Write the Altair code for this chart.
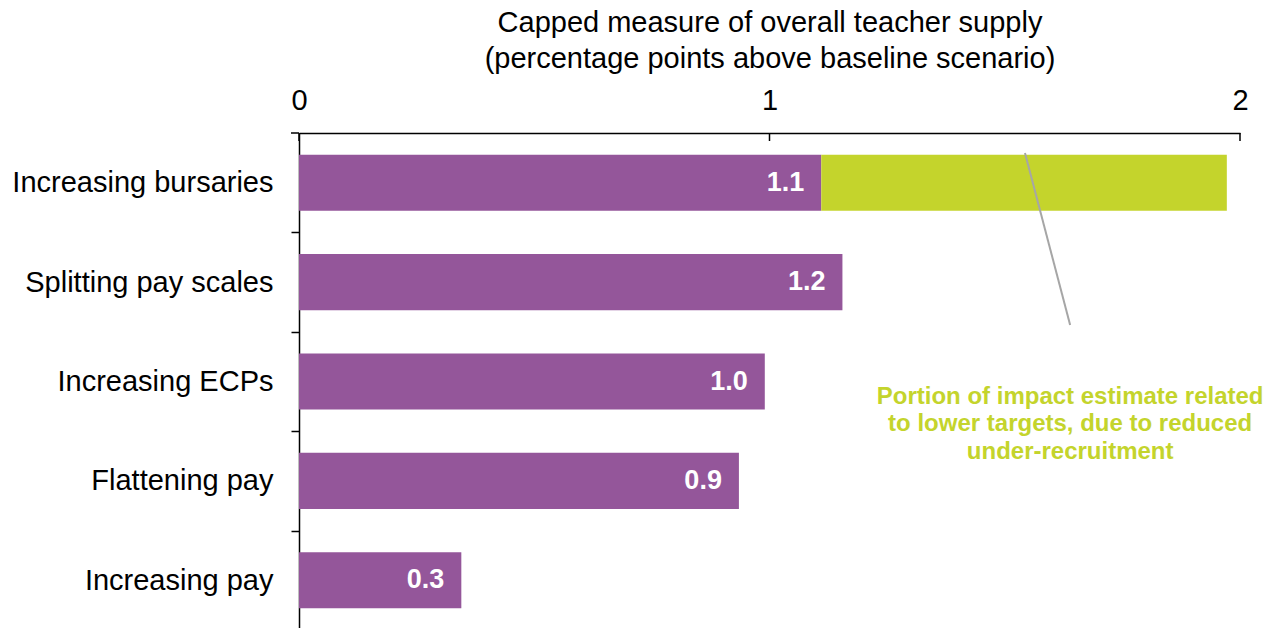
import altair as alt
import pandas as pd

categories = ["Increasing bursaries", "Splitting pay scales", "Increasing ECPs",
              "Flattening pay", "Increasing pay"]
impact = [1.11, 1.155, 0.99, 0.935, 0.345]
lower_target_portion = [0.862, 0.0, 0.0, 0.0, 0.0]
value_labels = ["1.1", "1.2", "1.0", "0.9", "0.3"]
x_ticks = [0, 1, 2]
title_lines = ["Capped measure of overall teacher supply",
               "(percentage points above baseline scenario)"]
note_lines = ["Portion of impact estimate related",
              "to lower targets, due to reduced",
              "under-recruitment"]
note_pos = {"x": 1.639, "category": "Increasing ECPs"}
leader = {"x": 1.543, "x2": 1.639}

PURPLE = "#94569a"
GREEN = "#c4d42c"
FONT = "Liberation Sans"
W, H = 941, 497
STEP = H / len(categories)

rows = []
for c, v, p in zip(categories, impact, lower_target_portion):
    rows.append({"category": c, "segment": "Estimate", "start": 0.0, "end": v})
    if p > 0:
        rows.append({"category": c, "segment": "Lower targets", "start": v, "end": v + p})
bars_df = pd.DataFrame(rows)
labels_df = pd.DataFrame({"category": categories, "value": impact, "label": value_labels})
ticks_df = pd.DataFrame({"tick": x_ticks})
note_df = pd.DataFrame([note_pos])
leader_df = pd.DataFrame([leader])

x_scale = alt.Scale(domain=[0, 2], nice=False, zero=True)
y_scale = alt.Scale(paddingInner=0.436, paddingOuter=0.218)

x_axis = alt.Axis(orient="top", values=x_ticks, labelExpr="'' + round(datum.value)",
                  ticks=False, tickSize=0, grid=False,
                  labelFontSize=29, labelFont=FONT, labelColor="black", labelFlush=False,
                  labelAlign="center", labelOverlap=False,
                  labelPadding=24, labelBaseline="alphabetic",
                  domainColor="black", domainWidth=1.5,
                  title=title_lines, titleFont=FONT, titleFontSize=29,
                  titleFontWeight="normal", titleColor="black", titleLineHeight=36,
                  titleX=W / 2, titleY=-102, titleAlign="center",
                  titleBaseline="alphabetic", titleAnchor="middle")
y_axis = alt.Axis(title=None, orient="left", ticks=True, tickSize=8,
                  tickOffset=STEP / 2, labelOffset=-STEP / 2,
                  tickColor="black", tickWidth=1.5, domainColor="black", domainWidth=1.5,
                  labelFontSize=29, labelFont=FONT, labelColor="black", labelPadding=18,
                  labelLimit=0, grid=False)

y_enc = alt.Y("category:N", sort=categories, scale=y_scale, axis=y_axis)

bars = alt.Chart(bars_df).mark_bar().encode(
    x=alt.X("start:Q", scale=x_scale, axis=x_axis),
    x2="end:Q",
    y=y_enc,
    color=alt.Color("segment:N",
                    scale=alt.Scale(domain=["Estimate", "Lower targets"], range=[PURPLE, GREEN]),
                    legend=None),
)

labels = alt.Chart(labels_df).mark_text(
    align="right", baseline="middle", dx=-17, fontSize=27, fontWeight="bold",
    color="white", font=FONT
).encode(
    x=alt.X("value:Q", scale=x_scale),
    y=alt.Y("category:N", sort=categories, scale=y_scale),
    text="label:N",
)

tick_marks = alt.Chart(ticks_df).mark_rule(color="black", strokeWidth=1.5).encode(
    x=alt.X("tick:Q", scale=x_scale),
    y=alt.value(0),
    y2=alt.value(8),
)

top_left_tick = alt.Chart(ticks_df.head(1)).mark_rule(color="black", strokeWidth=1.5).encode(
    x=alt.value(-8),
    x2=alt.value(0),
    y=alt.value(0),
)

leader_line = alt.Chart(leader_df).mark_rule(color="#a6a6a6", strokeWidth=2).encode(
    x=alt.X("x:Q", scale=x_scale),
    x2="x2:Q",
    y=alt.value(20),
    y2=alt.value(192),
)

note = alt.Chart(note_df).mark_text(
    align="center", baseline="middle", dy=15, fontSize=24, fontWeight="bold",
    color=GREEN, font=FONT, lineHeight=27.5
).encode(
    x=alt.X("x:Q", scale=x_scale),
    y=alt.Y("category:N", sort=categories, scale=y_scale),
    text=alt.value(note_lines),
)

chart = alt.layer(bars, labels, tick_marks, top_left_tick, leader_line, note).properties(
    width=W, height=H,
    autosize=alt.AutoSizeParams(type="none"),
    padding={"left": 291, "top": 125, "right": 26, "bottom": 0},
).configure_view(stroke=None)

chart.save("out.html", embed_options={"renderer": "svg", "actions": False})
